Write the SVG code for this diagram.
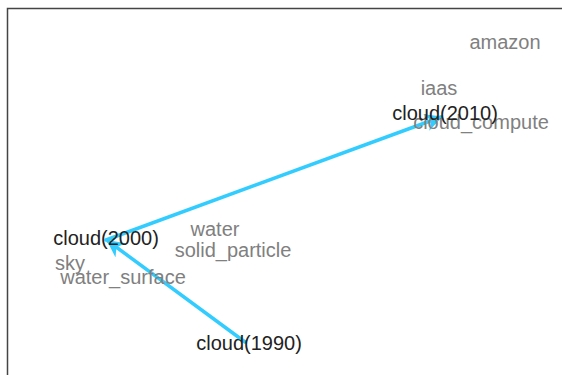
<svg xmlns="http://www.w3.org/2000/svg" width="562" height="375" viewBox="0 0 562 375">
<defs>
<style>
.node{font-family:"Liberation Sans",Arial,sans-serif;font-size:20px;fill:#222;text-anchor:middle}
.lbl{font-family:"Liberation Sans",Arial,sans-serif;font-size:20px;fill:#808080;text-anchor:middle}
.edge{stroke:#33CCFF;stroke-width:3.5;fill:none;stroke-linecap:round}
</style>
<marker id="ah" viewBox="0 0 10 10" refX="9" refY="5" markerWidth="5.5" markerHeight="5" orient="auto" markerUnits="strokeWidth">
<path d="M0,0 L10,5 L0,10 L3,5 z" fill="#33CCFF"/>
</marker>
</defs>
<rect width="562" height="375" fill="#fff"/>
<path d="M7.5,375 L7.5,8.5 L562,8.5" fill="none" stroke="#444" stroke-width="1.5"/>
<g id="edges">
<line class="edge" x1="245" y1="342" x2="108" y2="241" marker-end="url(#ah)"/>
<line class="edge" x1="106" y1="240" x2="441" y2="117" marker-end="url(#ah)"/>
</g>
<g id="labels">
<text class="lbl" x="505" y="49">amazon</text>
<text class="lbl" x="439" y="95">iaas</text>
<text class="lbl" x="481" y="129">cloud_compute</text>
<text class="lbl" x="215" y="236">water</text>
<text class="lbl" x="233" y="257">solid_particle</text>
<text class="lbl" x="70" y="270">sky</text>
<text class="lbl" x="123" y="284">water_surface</text>
</g>
<g id="cloud2010"><text class="node" x="445" y="120">cloud(2010)</text></g>
<g id="cloud2000"><text class="node" x="106" y="245">cloud(2000)</text></g>
<g id="cloud1990"><text class="node" x="249" y="350">cloud(1990)</text></g>
</svg>
